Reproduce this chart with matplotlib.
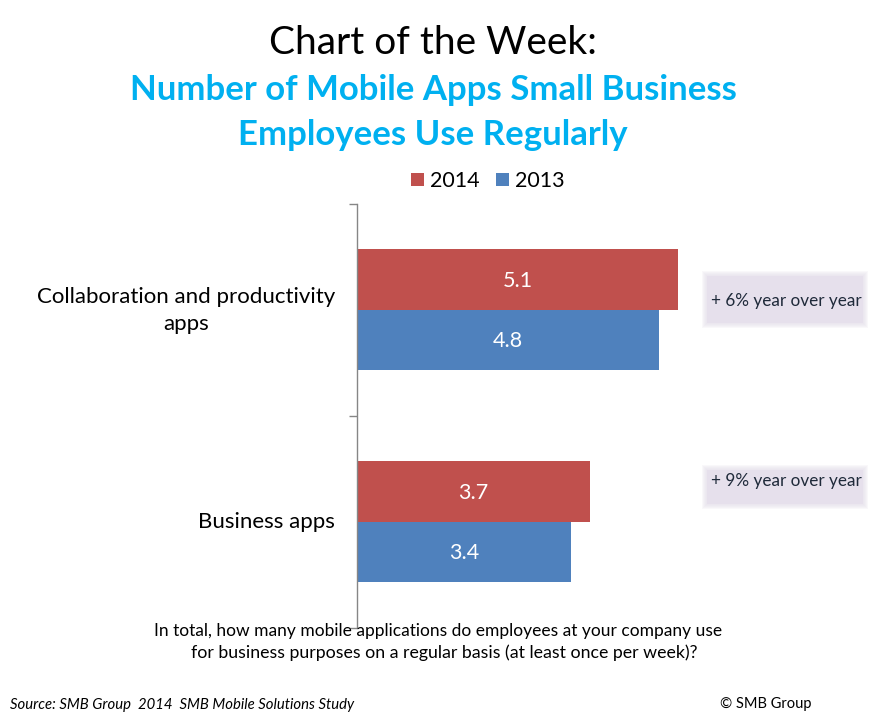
import matplotlib
matplotlib.use('Agg')
from matplotlib import pyplot as plt
from matplotlib.patches import Rectangle
from matplotlib.transforms import offset_copy
import numpy as np

plt.rcParams['font.family'] = ['Lato', 'DejaVu Sans']

# Data
categories = ['Collaboration and productivity\napps', 'Business apps']
values_2014 = [5.1, 3.7]
values_2013 = [4.8, 3.4]
notes = ['+ 6% year over year', '+ 9% year over year']

W, H = 879, 723
RED = '#C0504D'
BLUE = '#4F81BD'
CYAN = '#00B0F0'


def fx(px):
    return px / W


def fy(py):
    return 1 - py / H


def txt(px, py, s, **kw):
    kw.setdefault('ha', 'center')
    kw.setdefault('va', 'center')
    fig.text(fx(px), fy(py), s, **kw)


def soft_box(x0, y0, x1, y1, color='#E6E0EC', blur=5):
    # fake soft edge with a stack of rectangles
    for i in range(blur, -1, -1):
        a = 1.0 if i == 0 else 0.22
        fig.add_artist(Rectangle((fx(x0 + blur - i), fy(y1 - blur + i)),
                                 (x1 - x0 - 2 * (blur - i)) / W,
                                 (y1 - y0 - 2 * (blur - i)) / H,
                                 transform=fig.transFigure, facecolor=color,
                                 edgecolor='none', alpha=a, zorder=0))


fig = plt.figure(figsize=(W / 100, H / 100), dpi=100)

# axis spans x 357-700, y 203-627
ax = fig.add_axes([fx(357), fy(627.5), (700 - 357) / W, (627 - 203) / H])
ax.patch.set_alpha(0)
pos = np.arange(len(categories))
bar_h = 0.286
ax.barh(pos - bar_h / 2, values_2014, bar_h, color=RED)
ax.barh(pos + bar_h / 2, values_2013, bar_h, color=BLUE)
ax.set_xlim(0, 343 / 62.9)
ax.set_ylim(1.5, -0.5)

# labels sit a touch below the bar centre
lab_tr = offset_copy(ax.transData, fig=fig, x=0, y=-1.5, units='dots')
for i in pos:
    ax.text(values_2014[i] / 2, i - bar_h / 2, f'{values_2014[i]}', color='white',
            fontsize=15.5, ha='center', va='center', transform=lab_tr)
    ax.text(values_2013[i] / 2, i + bar_h / 2, f'{values_2013[i]}', color='white',
            fontsize=15.5, ha='center', va='center', transform=lab_tr)

for s in ['top', 'right', 'bottom']:
    ax.spines[s].set_visible(False)
ax.spines['left'].set_color('#868686')
ax.spines['left'].set_linewidth(1)
ax.set_xticks([])
ax.set_yticks([-0.5, 0.5, 1.5])
ax.set_yticklabels([])
ax.tick_params(axis='y', length=6, width=1, color='#868686')

txt(186, 310.5, categories[0], fontsize=16, linespacing=1.45)
txt(266, 522, categories[1], fontsize=16)

# titles
txt(433, 43, 'Chart of the Week:', fontsize=28, color='black')
txt(433, 90, 'Number of Mobile Apps Small Business', fontsize=25, color=CYAN, fontweight='bold')
txt(433, 135, 'Employees Use Regularly', fontsize=25, color=CYAN, fontweight='bold')

# legend by hand
fig.add_artist(Rectangle((fx(411), fy(186)), 13 / W, 13 / H, transform=fig.transFigure,
                         facecolor=RED, edgecolor='none'))
fig.add_artist(Rectangle((fx(496), fy(186)), 13 / W, 13 / H, transform=fig.transFigure,
                         facecolor=BLUE, edgecolor='none'))
txt(430, 181, '2014', fontsize=15.5, ha='left')
txt(515, 181, '2013', fontsize=15.5, ha='left')

# callouts
soft_box(702, 271, 868, 328)
soft_box(702, 465, 868, 509)
txt(786, 301, notes[0], fontsize=12.3, color='#1F2A3A')
txt(786, 481, notes[1], fontsize=12.3, color='#1F2A3A')

# question and source
txt(438.5, 631, 'In total, how many mobile applications do employees at your company use', fontsize=12.5)
txt(444.5, 653, 'for business purposes on a regular basis (at least once per week)?', fontsize=12.8)
txt(10, 705, 'Source: SMB Group  2014  SMB Mobile Solutions Study', fontsize=10.7, style='italic', ha='left')
txt(766, 704, '© SMB Group', fontsize=10.5)

fig.savefig('out.png', dpi=100)
